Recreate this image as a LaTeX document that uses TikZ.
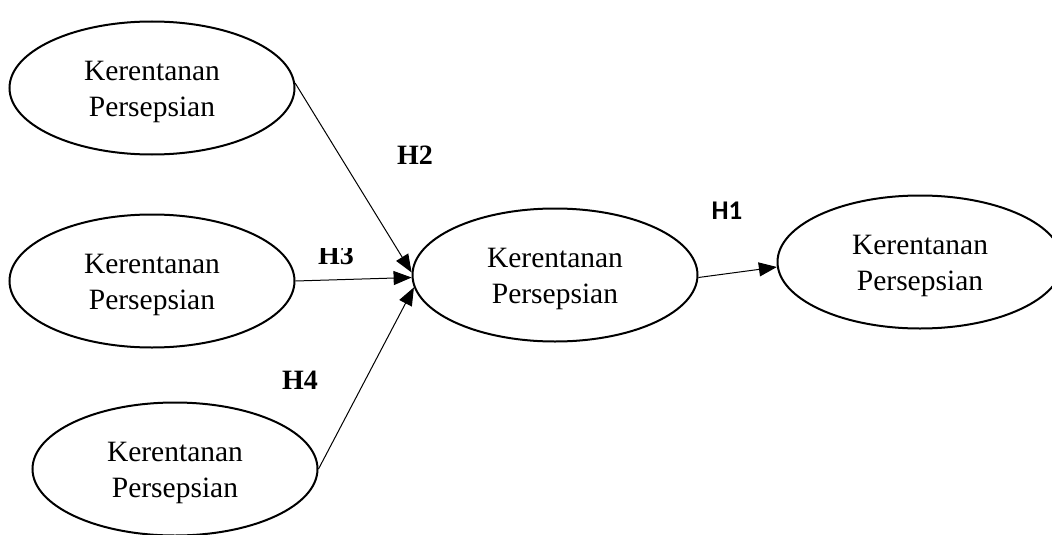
\documentclass[tikz,border=0pt]{standalone}
\usepackage{fontspec}
\setmainfont{Liberation Serif}
\newfontfamily\carlito{Carlito}
\usetikzlibrary{shapes.geometric,arrows.meta}
\tikzset{
  latent/.style={draw, ellipse, line width=2pt, minimum width=285pt, minimum height=133pt, inner sep=0pt},
  ltext/.style={align=center, inner sep=0pt, yshift=-4pt, font=\fontsize{29.5}{36}\selectfont},
  path/.style={line width=1pt, -{Triangle[length=18pt,width=14pt]}},
  hlab/.style={font=\fontsize{28}{30}\selectfont\bfseries, inner sep=0pt},
  hlabsans/.style={font=\fontsize{27}{30}\selectfont\carlito\bfseries, inner sep=0pt}
}
\begin{document}
\begin{tikzpicture}[x=1pt,y=-1pt]
\useasboundingbox (0,0) rectangle (1052,535);
\clip (0,0) rectangle (1052,535);
\node[latent] (e1) at (152,88) {};
\node[latent] (e2) at (152,281) {};
\node[latent] (e3) at (175,469) {};
\node[latent] (ec) at (555,275) {};
\node[latent] (er) at (920,262) {};
\node[ltext] (t1) at (e1) {Kerentanan\\Persepsian};
\node[ltext] (t2) at (e2) {Kerentanan\\Persepsian};
\node[ltext] (t3) at (e3) {Kerentanan\\Persepsian};
\node[ltext] (tc) at (ec) {Kerentanan\\Persepsian};
\node[ltext] (tr) at (er) {Kerentanan\\Persepsian};
\draw[path] (e1.2) -- (ec.179);
\draw[path] (e2.east) -- (ec.181);
\draw[path] (e3.east) -- (ec.185);
\draw[path] (ec.-1) -- (er.182);
\node[hlab] (h2) at (415,155) {H2};
\begin{scope}
\clip (300,248) rectangle (380,275);
\node[hlab] (h3) at (336,255) {H3};
\end{scope}
\node[hlab] (h4) at (300,380) {H4};
\node[hlabsans] (h1) at (727,211) {H1};
\end{tikzpicture}
\end{document}
